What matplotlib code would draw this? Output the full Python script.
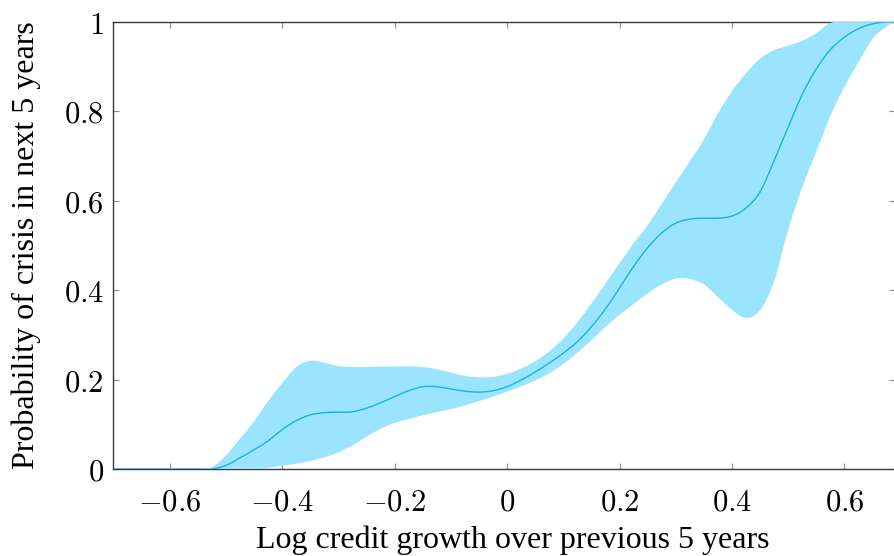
import matplotlib
matplotlib.use("Agg")
import numpy as np
import matplotlib.pyplot as plt
from matplotlib.path import Path
from matplotlib.patches import PathPatch
from matplotlib.ticker import FixedLocator, FuncFormatter

# Log credit growth grid and estimated crisis probabilities (mean and band)
credit_growth = [-0.70, -0.65, -0.60, -0.575, -0.55, -0.525, -0.50, -0.475, -0.45, -0.425,
                 -0.40, -0.375, -0.35, -0.325, -0.30, -0.275, -0.25, -0.225, -0.20, -0.175,
                 -0.15, -0.125, -0.10, -0.075, -0.05, -0.025, 0.0, 0.025, 0.05, 0.075,
                 0.10, 0.125, 0.15, 0.175, 0.20, 0.225, 0.25, 0.275, 0.30, 0.325,
                 0.35, 0.375, 0.40, 0.425, 0.45, 0.475, 0.50, 0.525, 0.55, 0.575,
                 0.60, 0.625, 0.65, 0.675, 0.69]

prob_mean = [0.0, 0.0, 0.0, 0.0, 0.0, 0.0, 0.008, 0.025, 0.043, 0.063,
             0.088, 0.108, 0.121, 0.126, 0.127, 0.128, 0.136, 0.148, 0.162, 0.175,
             0.184, 0.184, 0.179, 0.174, 0.172, 0.175, 0.184, 0.199, 0.217, 0.237,
             0.259, 0.285, 0.318, 0.358, 0.405, 0.453, 0.495, 0.528, 0.550, 0.559,
             0.561, 0.561, 0.566, 0.584, 0.620, 0.690, 0.765, 0.838, 0.895, 0.938,
             0.966, 0.985, 0.996, 1.0, 1.0]

prob_upper = [0.0, 0.0, 0.0, 0.0, 0.0, 0.004, 0.030, 0.068, 0.106, 0.152,
              0.192, 0.228, 0.242, 0.238, 0.230, 0.228, 0.228, 0.229, 0.229, 0.230,
              0.228, 0.223, 0.216, 0.208, 0.205, 0.206, 0.213, 0.225, 0.241, 0.263,
              0.292, 0.328, 0.370, 0.415, 0.460, 0.505, 0.545, 0.593, 0.641, 0.688,
              0.737, 0.795, 0.845, 0.885, 0.918, 0.937, 0.947, 0.958, 0.975, 0.998,
              1.0, 1.0, 1.0, 1.0, 1.0]

prob_lower = [0.0, 0.0, 0.0, 0.0, 0.0, 0.0, 0.0, 0.0, 0.0, 0.003,
              0.007, 0.012, 0.018, 0.026, 0.037, 0.053, 0.072, 0.090, 0.103, 0.112,
              0.120, 0.127, 0.134, 0.142, 0.152, 0.162, 0.173, 0.185, 0.198, 0.214,
              0.235, 0.260, 0.288, 0.318, 0.345, 0.369, 0.393, 0.413, 0.426, 0.425,
              0.413, 0.385, 0.356, 0.338, 0.355, 0.420, 0.535, 0.630, 0.710, 0.790,
              0.855, 0.910, 0.962, 0.990, 1.0]

x_ticks = [-0.6, -0.4, -0.2, 0.0, 0.2, 0.4, 0.6]
y_ticks = [0.0, 0.2, 0.4, 0.6, 0.8, 1.0]

FILL_COLOR = "#9AE4FD"
LINE_COLOR = "#14B4EA"


def smooth_segments(xs, ys):
    """Cubic Bezier segments through the points (Hermite with finite-difference slopes)."""
    xs = np.asarray(xs, float)
    ys = np.asarray(ys, float)
    n = len(xs)
    m = np.empty(n)
    m[0] = (ys[1] - ys[0]) / (xs[1] - xs[0])
    m[-1] = (ys[-1] - ys[-2]) / (xs[-1] - xs[-2])
    m[1:-1] = (ys[2:] - ys[:-2]) / (xs[2:] - xs[:-2])
    verts = []
    for i in range(n - 1):
        h = xs[i + 1] - xs[i]
        verts.append((xs[i] + h / 3, ys[i] + m[i] * h / 3))
        verts.append((xs[i + 1] - h / 3, ys[i + 1] - m[i + 1] * h / 3))
        verts.append((xs[i + 1], ys[i + 1]))
    return verts


def smooth_line_path(xs, ys):
    verts = [(xs[0], ys[0])] + smooth_segments(xs, ys)
    codes = [Path.MOVETO] + [Path.CURVE4] * (len(verts) - 1)
    return Path(verts, codes)


def smooth_band_path(xs, lo, hi):
    top = [(xs[0], hi[0])] + smooth_segments(xs, hi)
    back = smooth_segments(xs[::-1], lo[::-1])
    verts = top + [(xs[-1], lo[-1])] + back + [(xs[0], hi[0])]
    codes = ([Path.MOVETO] + [Path.CURVE4] * (len(top) - 1) + [Path.LINETO]
             + [Path.CURVE4] * len(back) + [Path.CLOSEPOLY])
    return Path(verts, codes)


plt.rcParams["mathtext.fontset"] = "cm"

fig = plt.figure(figsize=(8.95, 5.56), dpi=100)
ax = fig.add_axes([0.1268, 0.1565, 0.8732, 0.8039])

band = PathPatch(smooth_band_path(credit_growth, prob_lower, prob_upper),
                 facecolor=FILL_COLOR, edgecolor="none", linewidth=0, zorder=3)
ax.add_patch(band)
curve = PathPatch(smooth_line_path(credit_growth, prob_mean), facecolor="none",
                  edgecolor=LINE_COLOR, linewidth=1.0, zorder=4)
ax.add_patch(curve)

ax.set_xlim(-0.7, 0.69)
ax.set_ylim(0, 1)

ax.xaxis.set_major_locator(FixedLocator(x_ticks))
ax.yaxis.set_major_locator(FixedLocator(y_ticks))


def fmt(v, _pos):
    if abs(v) < 1e-9:
        return r"$0$"
    if abs(v - 1) < 1e-9:
        return r"$1$"
    return r"$%.1f$" % v


ax.xaxis.set_major_formatter(FuncFormatter(fmt))
ax.yaxis.set_major_formatter(FuncFormatter(fmt))

ax.tick_params(axis="both", which="major", direction="in", length=4.5, width=0.8,
               color="#8c8c8c", labelsize=22, top=True, right=True)
ax.tick_params(axis="x", pad=13)
ax.tick_params(axis="y", pad=7)

for side in ["left", "bottom", "top"]:
    ax.spines[side].set_color("#3a3a3a")
    ax.spines[side].set_linewidth(1.0)
ax.spines["right"].set_visible(False)

ax.set_xlabel("Log credit growth over previous 5 years", fontsize=23,
              family="Liberation Serif", labelpad=6.5)
ax.xaxis.label.set_x(0.511)
ax.set_ylabel("Probability of crisis in next 5 years", fontsize=23,
              family="Liberation Serif", labelpad=16)

fig.savefig("out.png", dpi=100)
